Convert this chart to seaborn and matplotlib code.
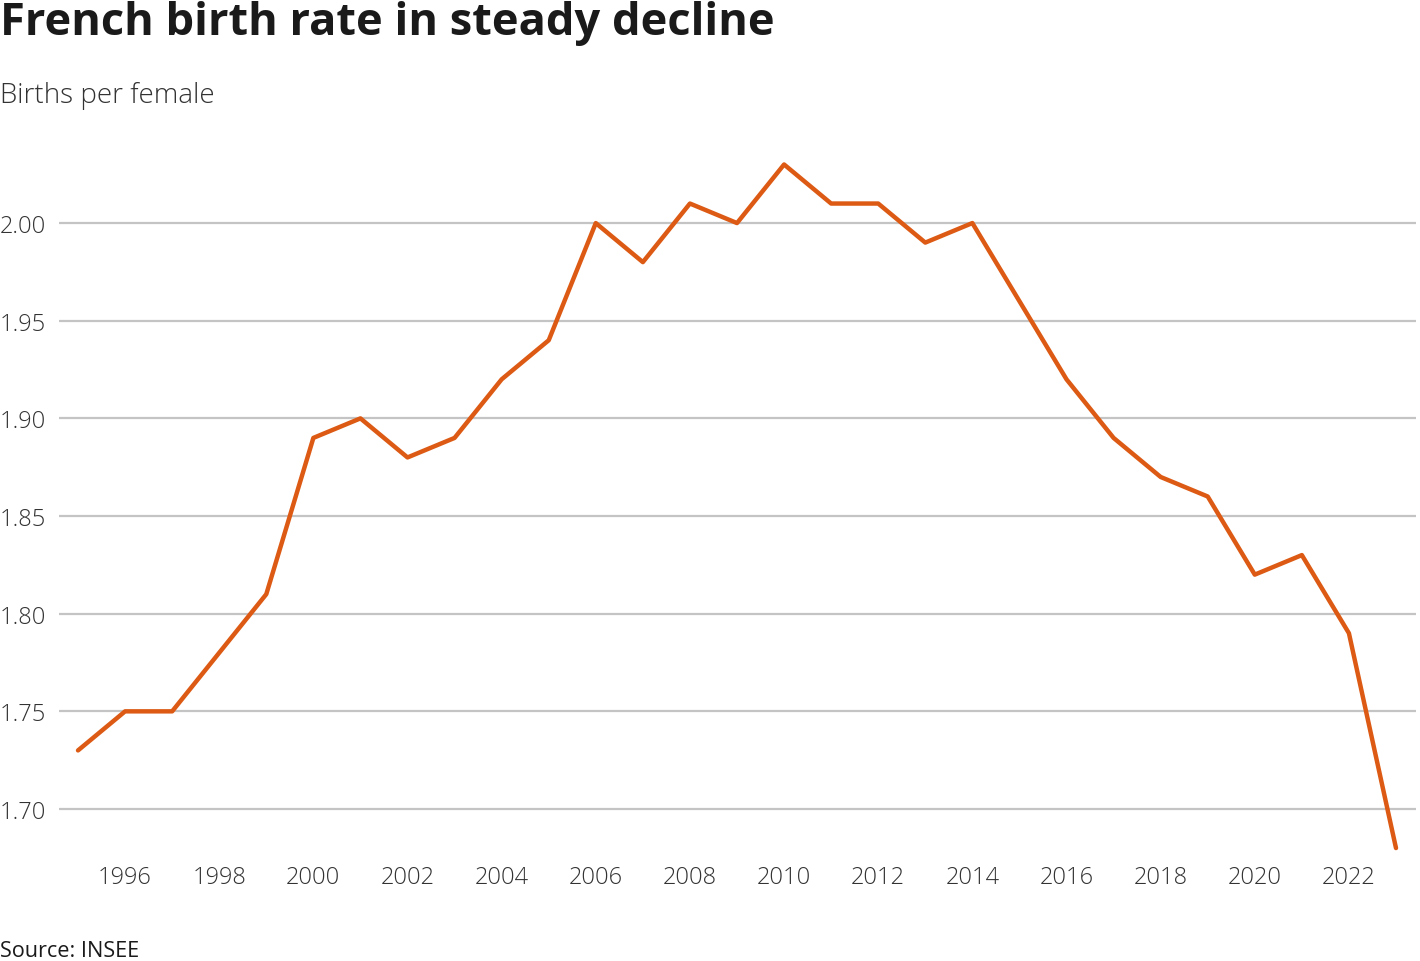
import matplotlib
matplotlib.use("Agg")
import matplotlib.pyplot as plt
import seaborn as sns
import pandas as pd

years = list(range(1995, 2024))
births = [1.73, 1.75, 1.75, 1.78, 1.81, 1.89, 1.90, 1.88, 1.89, 1.92,
          1.94, 2.00, 1.98, 2.01, 2.00, 2.03, 2.01, 2.01, 1.99, 2.00,
          1.96, 1.92, 1.89, 1.87, 1.86, 1.82, 1.83, 1.79, 1.68]
x_ticks = list(range(1996, 2023, 2))
y_ticks = [1.70, 1.75, 1.80, 1.85, 1.90, 1.95, 2.00]

title = "French birth rate in steady decline"
subtitle = "Births per female"
source = "Source: INSEE"

df = pd.DataFrame({"year": years, "births": births})

sns.set_theme(style="white")
plt.rcParams['font.family'] = ['Open Sans', 'DejaVu Sans']

W, H = 1420, 962
fig = plt.figure(figsize=(W / 100, H / 100), dpi=100)
ax = fig.add_axes([59 / W, 1 - 860 / H, (1416 - 59) / W, (860 - 152) / H])

sns.lineplot(data=df, x="year", y="births", ax=ax, color="#dc5a14", linewidth=3.2)

ax.set_xlim(1994.596, 2023.425)
ax.set_ylim(1.6744, 2.0369)
ax.set_xticks(x_ticks)
ax.set_xticklabels([str(t) for t in x_ticks])
ax.set_yticks(y_ticks)
ax.set_yticklabels([f"{t:.2f}" for t in y_ticks])
ax.yaxis.grid(True, color="#c4c4c4", linewidth=1.6)
ax.xaxis.grid(False)
for s in ax.spines.values():
    s.set_visible(False)
ax.set_xlabel("")
ax.set_ylabel("")
ax.tick_params(axis="both", length=0, labelsize=17, colors="#333333")
ax.tick_params(axis="x", pad=4)
for lab in ax.get_xticklabels() + ax.get_yticklabels():
    lab.set_fontweight("light")
for lab in ax.get_yticklabels():
    lab.set_horizontalalignment("left")
    lab.set_x(-59 / (1416 - 59))
ax.yaxis.set_tick_params(pad=0)

fig.text(0.0, 1 - 1 / H, title, fontsize=32.6, fontweight="bold", color="#1a1a1a",
         ha="left", va="top")
fig.text(0.0, 1 - 82 / H, subtitle, fontsize=20, fontweight="light", color="#333333",
         ha="left", va="top")
fig.text(0.0, 1 - 957 / H, source, fontsize=15.6, color="#1a1a1a",
         ha="left", va="baseline")

fig.savefig("out.png", dpi=100)
